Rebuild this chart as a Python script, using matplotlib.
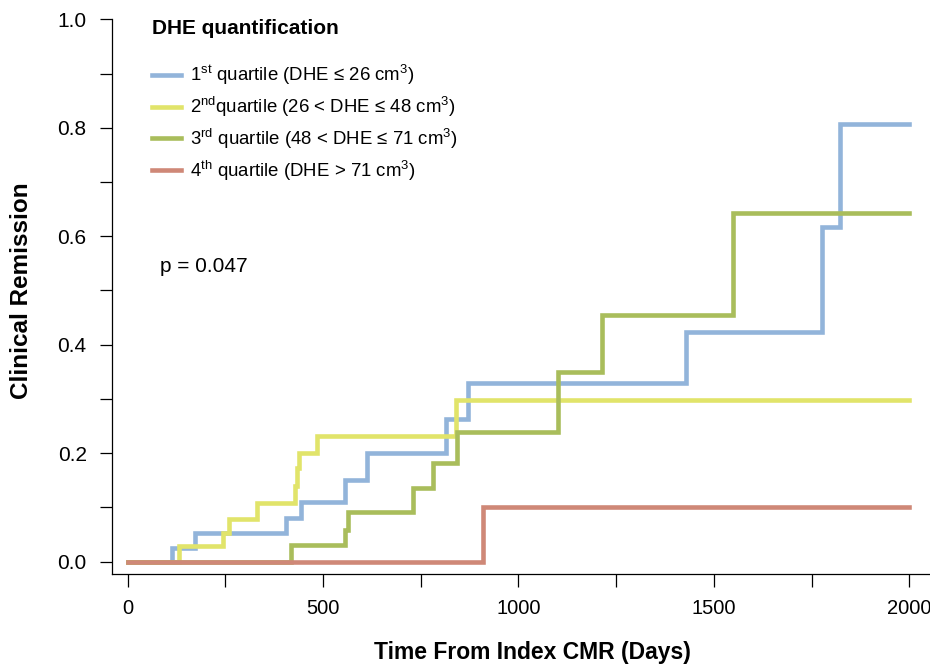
import matplotlib
matplotlib.use('Agg')
from matplotlib import pyplot as plt
from matplotlib.ticker import MultipleLocator

plt.rcParams['font.family'] = ['Liberation Sans', 'DejaVu Sans']
plt.rcParams['mathtext.fontset'] = 'custom'
plt.rcParams['mathtext.rm'] = 'Liberation Sans'
plt.rcParams['mathtext.it'] = 'Liberation Sans:italic'
plt.rcParams['mathtext.bf'] = 'Liberation Sans:bold'

# step curves (days, cumulative remission)
q1_days = [0, 114, 172, 405, 445, 556, 612, 816, 872, 1430, 1776, 1824, 2000]
q1_rem  = [0, 0.025, 0.052, 0.080, 0.110, 0.150, 0.200, 0.262, 0.329, 0.424, 0.617, 0.807, 0.807]

q2_days = [0, 131, 245, 260, 332, 428, 433, 439, 484, 840, 2000]
q2_rem  = [0, 0.029, 0.052, 0.078, 0.108, 0.139, 0.172, 0.201, 0.231, 0.298, 0.298]

q3_days = [0, 417, 556, 565, 730, 782, 842, 1102, 1215, 1548, 2000]
q3_rem  = [0, 0.030, 0.058, 0.092, 0.135, 0.182, 0.238, 0.349, 0.455, 0.642, 0.642]

q4_days = [0, 910, 2000]
q4_rem  = [0, 0.100, 0.100]

labels = [r'1$^{\mathrm{st}}$ quartile (DHE ≤ 26 cm$^{3}$)',
          r'2$^{\mathrm{nd}}$quartile (26 < DHE ≤ 48 cm$^{3}$)',
          r'3$^{\mathrm{rd}}$ quartile (48 < DHE ≤ 71 cm$^{3}$)',
          r'4$^{\mathrm{th}}$ quartile (DHE > 71 cm$^{3}$)']
colors = ['#92b4da', '#e1e46a', '#a9bd5b', '#cf8877']
p_text = 'p = 0.047'

W, H = 930, 664
fig = plt.figure(figsize=(W / 100, H / 100), dpi=100)
ax = fig.add_axes([111.7 / W, 1 - 574.3 / H, (W - 111.7) / W, (574.3 - 19.3) / H])

series = [(q1_days, q1_rem), (q2_days, q2_rem), (q3_days, q3_rem), (q4_days, q4_rem)]
for (d, r), lab, c in zip(series, labels, colors):
    ax.step(d, r, where='post', color=c, lw=3.3, label=lab, solid_joinstyle='miter')

ax.set_xlim(-40.5, 2053)
ax.set_ylim(-0.0236, 1.0)
ax.spines['top'].set_visible(False)
ax.spines['right'].set_visible(False)
for s in ['left', 'bottom']:
    ax.spines[s].set_linewidth(0.9)

ax.xaxis.set_major_locator(MultipleLocator(500))
ax.xaxis.set_minor_locator(MultipleLocator(250))
ax.yaxis.set_major_locator(MultipleLocator(0.2))
ax.yaxis.set_minor_locator(MultipleLocator(0.1))
ax.yaxis.set_major_formatter(plt.FuncFormatter(lambda v, p: '%.1f' % v))
ax.tick_params(axis='x', which='both', length=9.5, width=0.9, pad=8, labelsize=14.5)
ax.tick_params(axis='y', which='both', length=8.5, width=0.9, pad=9.5, labelsize=15)

fig.text(532 / W, 1 - 652 / H, 'Time From Index CMR (Days)', ha='center', va='center',
         fontsize=16.5, fontweight='bold')
fig.text(22 / W, 1 - 291 / H, 'Clinical Remission', ha='center', va='center',
         rotation=90, fontsize=17.5, fontweight='bold')

leg = ax.legend(loc='upper left', bbox_to_anchor=(152 / W, 1 - 19 / H),
                bbox_transform=fig.transFigure, frameon=False, fontsize=13.4,
                title='DHE quantification', alignment='left',
                title_fontproperties={'weight': 'bold', 'size': 15},
                handlelength=1.55, handletextpad=0.5, labelspacing=0.42,
                borderpad=0, borderaxespad=0)
leg._legend_box.sep = 18

fig.text(160 / W, 1 - 266 / H, p_text, ha='left', va='center', fontsize=15)

fig.savefig('out.png', dpi=100)
